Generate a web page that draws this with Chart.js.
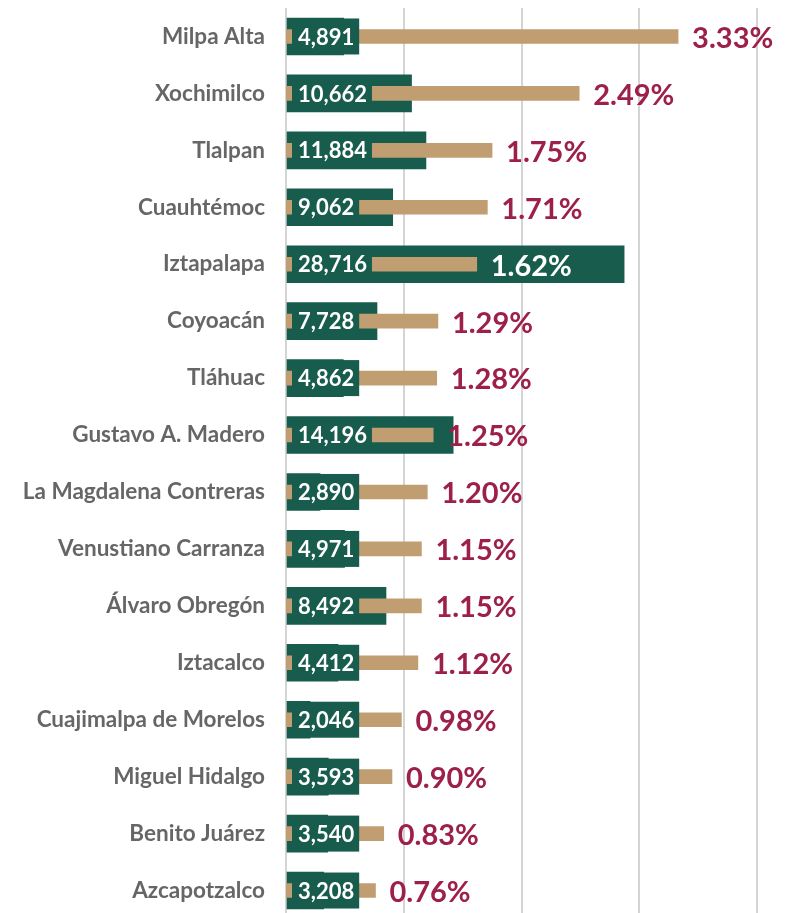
<!DOCTYPE html>
<html>
<head>
<meta charset="utf-8">
<style>
  html, body { margin: 0; padding: 0; background: #fff; overflow: hidden; }
  #wrap { width: 791px; height: 919px; position: relative; }
</style>
<script src="https://cdn.jsdelivr.net/npm/chart.js@4"></script>
</head>
<body>
<div id="wrap"><canvas id="chart"></canvas></div>
<script>
const alcaldias = [
  'Milpa Alta', 'Xochimilco', 'Tlalpan', 'Cuauhtémoc', 'Iztapalapa', 'Coyoacán',
  'Tláhuac', 'Gustavo A. Madero', 'La Magdalena Contreras', 'Venustiano Carranza',
  'Álvaro Obregón', 'Iztacalco', 'Cuajimalpa de Morelos', 'Miguel Hidalgo',
  'Benito Juárez', 'Azcapotzalco',
];
const casos = [4891, 10662, 11884, 9062, 28716, 7728, 4862, 14196, 2890, 4971, 8492, 4412, 2046, 3593, 3540, 3208];
const porcentajes = [3.33, 2.49, 1.75, 1.71, 1.62, 1.29, 1.28, 1.25, 1.20, 1.15, 1.15, 1.12, 0.98, 0.90, 0.83, 0.76];

const GREEN = '#175c4c';
const TAN = '#c19e72';
const MAROON = '#9c2049';
const FONT = 'Lato, "Source Sans Pro", sans-serif';

const fmt = (n) => n.toLocaleString('en-US');

// count labels sit in a green box at the start of each row; % labels follow the tan bar
const labelPlugin = {
  id: 'barLabels',
  afterDatasetsDraw(chart) {
    const { ctx, chartArea } = chart;
    const greenMeta = chart.getDatasetMeta(0);
    const tanMeta = chart.getDatasetMeta(1);
    ctx.save();
    ctx.textBaseline = 'middle';
    ctx.textAlign = 'left';

    greenMeta.data.forEach((bar, i) => {
      const y = bar.y;
      ctx.font = `bold 22px ${FONT}`;
      const text = fmt(casos[i]);
      const w = ctx.measureText(text).width;
      const x0 = chartArea.left + 6;
      ctx.fillStyle = GREEN;
      ctx.fillRect(x0, y - 18, w + 11, 36);
      ctx.fillStyle = '#ffffff';
      ctx.fillText(text, x0 + 6, y + 1);
    });

    tanMeta.data.forEach((bar, i) => {
      const text = porcentajes[i].toFixed(2) + '%';
      ctx.font = `bold 29px ${FONT}`;
      const w = ctx.measureText(text).width;
      const x = bar.x + 14;
      const inside = x + w < greenMeta.data[i].x;
      ctx.fillStyle = inside ? '#ffffff' : MAROON;
      ctx.fillText(text, x, bar.y + 2);
    });
    ctx.restore();
  },
};

new Chart(document.getElementById('chart'), {
  type: 'bar',
  data: {
    labels: alcaldias,
    datasets: [
      {
        label: 'Casos',
        data: casos,
        xAxisID: 'x',
        backgroundColor: GREEN,
        barThickness: 37,
        grouped: false,
        order: 2,
      },
      {
        label: 'Porcentaje',
        data: porcentajes,
        xAxisID: 'x2',
        backgroundColor: TAN,
        barThickness: 14,
        grouped: false,
        order: 1,
      },
    ],
  },
  options: {
    indexAxis: 'y',
    responsive: true,
    maintainAspectRatio: false,
    animation: false,
    layout: { padding: { top: 8, right: 34, bottom: 0, left: 0 } },
    plugins: {
      legend: { display: false },
      tooltip: { enabled: false },
    },
    scales: {
      x: {
        position: 'bottom',
        min: 0,
        max: 40000,
        ticks: { display: false, stepSize: 10000 },
        border: { display: false },
        grid: { color: '#d4d4d4', lineWidth: 2, drawTicks: false },
      },
      x2: {
        display: false,
        min: 0,
        max: 4,
      },
      y: {
        afterFit(scale) {
          scale.width = 286;
          scale.paddingTop = 0;
          scale.paddingBottom = 0;
        },
        border: { display: false },
        grid: { display: false, drawTicks: false },
        ticks: {
          padding: 21,
          color: '#666666',
          font: { family: FONT, size: 22.5, weight: 'bold' },
        },
      },
    },
  },
  plugins: [labelPlugin],
});
</script>
</body>
</html>
